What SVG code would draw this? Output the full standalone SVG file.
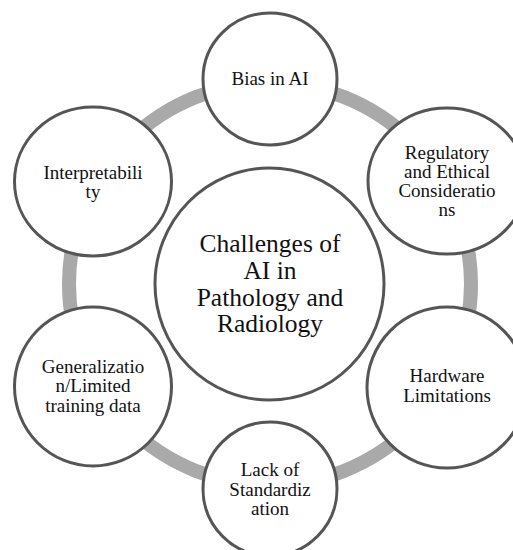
<svg xmlns="http://www.w3.org/2000/svg" width="513" height="550" viewBox="0 0 513 550">
  <style>
    .node { fill: #ffffff; stroke: #555555; stroke-width: 3; }
    .label { font-family: "Liberation Serif", "Times New Roman", serif; font-size: 19px; fill: #111111; text-anchor: middle; }
    .hub { font-size: 25.5px; }
    .ring { fill: none; stroke: #a9a9a9; stroke-width: 14; }
  </style>

  <!-- ring linking the satellite topics -->
  <g id="connectors">
    <circle class="ring" cx="270" cy="284" r="201"/>
  </g>

  <!-- central topic -->
  <g id="hub">
    <ellipse class="node" cx="269.5" cy="284" rx="114.5" ry="116"/>
    <text class="label hub" x="270" y="252">Challenges of</text>
    <text class="label hub" x="270" y="278.5">AI in</text>
    <text class="label hub" x="270" y="305.5">Pathology and</text>
    <text class="label hub" x="270" y="332">Radiology</text>
  </g>

  <g id="bias">
    <ellipse class="node" cx="270" cy="79" rx="67" ry="66"/>
    <text class="label" x="270" y="85">Bias in AI</text>
  </g>

  <g id="regulatory">
    <ellipse class="node" cx="447" cy="181" rx="79" ry="73"/>
    <text class="label" x="447" y="158.5">Regulatory</text>
    <text class="label" x="447" y="177.5">and Ethical</text>
    <text class="label" x="447" y="197">Consideratio</text>
    <text class="label" x="447" y="216">ns</text>
  </g>

  <g id="hardware">
    <ellipse class="node" cx="447" cy="387.5" rx="80" ry="80.5"/>
    <text class="label" x="447" y="381.5">Hardware</text>
    <text class="label" x="447" y="401.5">Limitations</text>
  </g>

  <g id="standardization">
    <ellipse class="node" cx="270" cy="489" rx="67" ry="67"/>
    <text class="label" x="270" y="476">Lack of</text>
    <text class="label" x="270" y="495.5">Standardiz</text>
    <text class="label" x="270" y="515">ation</text>
  </g>

  <g id="generalization">
    <ellipse class="node" cx="93" cy="386.5" rx="78.5" ry="79.5"/>
    <text class="label" x="93" y="372.5">Generalizatio</text>
    <text class="label" x="93" y="392">n/Limited</text>
    <text class="label" x="93" y="411.5">training data</text>
  </g>

  <g id="interpretability">
    <ellipse class="node" cx="93" cy="181.5" rx="78.5" ry="74.5"/>
    <text class="label" x="93" y="178.5">Interpretabili</text>
    <text class="label" x="93" y="197.5">ty</text>
  </g>
</svg>
